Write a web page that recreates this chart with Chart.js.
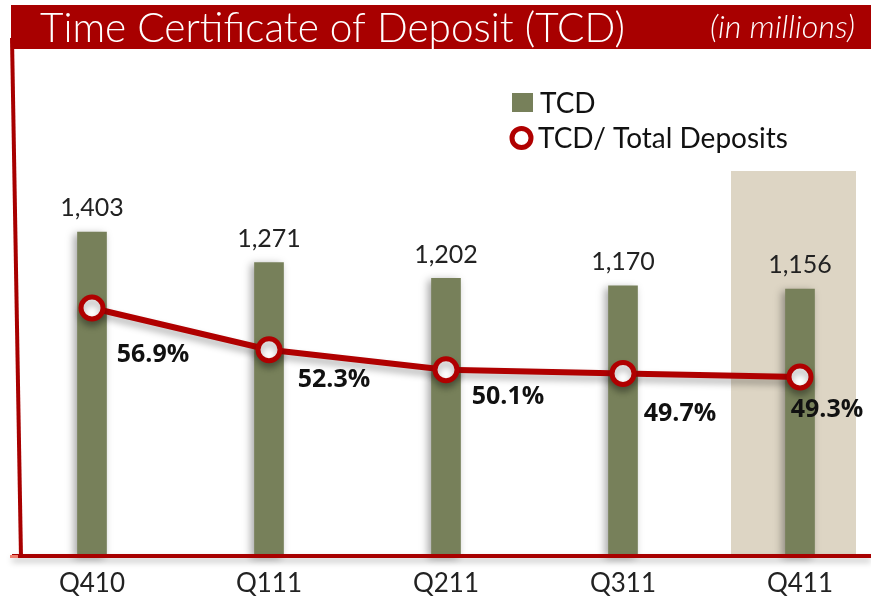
<!DOCTYPE html>
<html>
<head>
<meta charset="utf-8">
<script src="https://cdn.jsdelivr.net/npm/chart.js@4"></script>
<style>
html,body{margin:0;padding:0;background:#fff;}
#wrap{width:871px;height:603px;position:relative;}
</style>
</head>
<body>
<div id="wrap"><canvas id="c" width="871" height="603"></canvas></div>
<script>
const categories = ["Q410", "Q111", "Q211", "Q311", "Q411"];
const tcdValues = [1403, 1271, 1202, 1170, 1156];
const tcdRatio = [56.9, 52.3, 50.1, 49.7, 49.3];
const seriesNames = ["TCD", "TCD/ Total Deposits"];
const titleText = "Time Certificate of Deposit (TCD)";
const unitText = "(in millions)";

const RED = "#a80000";
const OLIVE = "#77805a";
const HIGHLIGHT = "#ddd5c4";

function fitFont(ctx, text, weight, family, targetW, style) {
  let size = 30;
  ctx.font = (style||"") + " " + weight + " " + size + "px " + family;
  const w = ctx.measureText(text).width;
  size = size * targetW / w;
  return (style||"") + " " + weight + " " + size.toFixed(2) + "px " + family;
}

const decor = {
  id: "decor",
  beforeDatasetsDraw(chart) {
    const ctx = chart.ctx, x = chart.scales.x, area = chart.chartArea;
    const cx = x.getPixelForValue(categories.length - 1);
    ctx.save();
    ctx.fillStyle = HIGHLIGHT;
    ctx.fillRect(cx - 69, 171, 125, area.bottom - 171);
    ctx.restore();
  },
  beforeDatasetDraw(chart, args) {
    const ctx = chart.ctx;
    ctx.save();
    if (args.index === 0) {
      ctx.shadowColor = "rgba(0,0,0,0.35)";
      ctx.shadowBlur = 8;
      ctx.shadowOffsetX = -3;
      ctx.shadowOffsetY = 2;
    } else {
      ctx.shadowColor = "rgba(0,0,0,0.3)";
      ctx.shadowBlur = 7;
      ctx.shadowOffsetX = 0;
      ctx.shadowOffsetY = 5;
    }
  },
  afterDatasetDraw(chart) {
    chart.ctx.restore();
  },
  afterDatasetsDraw(chart) {
    const ctx = chart.ctx, area = chart.chartArea;
    ctx.save();
    ctx.shadowColor = "rgba(0,0,0,0.25)";
    ctx.shadowBlur = 6;
    ctx.shadowOffsetY = 4;
    ctx.strokeStyle = RED;
    ctx.lineWidth = 4;
    ctx.beginPath();
    ctx.moveTo(12, area.bottom);
    ctx.lineTo(871, area.bottom);
    ctx.stroke();
    ctx.shadowColor = "transparent";
    ctx.beginPath();
    ctx.moveTo(12, 38);
    ctx.lineTo(21, area.bottom + 2);
    ctx.stroke();
    ctx.fillStyle = "#f08070";
    ctx.fillRect(10, area.bottom - 1, 8, 3);

    // title bar
    ctx.fillStyle = RED;
    ctx.fillRect(11, 5, 860, 44);
    ctx.fillStyle = "#ffffff";
    ctx.textBaseline = "alphabetic";
    ctx.textAlign = "left";
    ctx.font = fitFont(ctx, titleText, 300, "Lato", 585);
    ctx.fillText(titleText, 40, 42);
    ctx.font = fitFont(ctx, unitText, 300, "Lato", 145, "italic");
    ctx.fillText(unitText, 710, 38);

    // value labels above bars
    const m0 = chart.getDatasetMeta(0);
    ctx.fillStyle = "#222";
    ctx.textAlign = "center";
    ctx.textBaseline = "middle";
    ctx.font = "400 25px Lato";
    m0.data.forEach((el, i) => {
      ctx.fillText(tcdValues[i].toLocaleString("en-US"), el.x, el.y - 24);
    });
    // percent labels
    const offs = [[61, 47], [65, 30], [62, 27], [57, 40], [27, 33]];
    const m1 = chart.getDatasetMeta(1);
    ctx.fillStyle = "#111";
    ctx.font = "700 25px 'Open Sans'";
    m1.data.forEach((el, i) => {
      ctx.fillText(tcdRatio[i].toFixed(1) + "%", el.x + offs[i][0], el.y + offs[i][1]);
    });

    // legend
    const ds = chart.data.datasets;
    ctx.textAlign = "left";
    ctx.fillStyle = ds[0].backgroundColor;
    ctx.fillRect(512, 93, 21, 19);
    ctx.beginPath();
    ctx.arc(521.5, 138, 9.5, 0, Math.PI * 2);
    ctx.fillStyle = "#fff";
    ctx.fill();
    ctx.lineWidth = 5;
    ctx.strokeStyle = ds[1].borderColor;
    ctx.stroke();
    ctx.fillStyle = "#111";
    ctx.font = fitFont(ctx, ds[1].label, 400, "Lato", 250);
    ctx.fillText(ds[0].label, 540, 104);
    ctx.fillText(ds[1].label, 538, 139);
    ctx.restore();
  }
};

new Chart(document.getElementById("c"), {
  data: {
    labels: categories,
    datasets: [
      {
        type: "bar",
        label: seriesNames[0],
        data: tcdValues,
        yAxisID: "y",
        backgroundColor: OLIVE,
        barThickness: 29,
        clip: false,
        order: 1
      },
      {
        type: "line",
        label: seriesNames[1],
        data: tcdRatio,
        yAxisID: "y2",
        borderColor: "#b00000",
        borderWidth: 6,
        pointRadius: 11,
        pointBorderWidth: 5,
        pointBackgroundColor: "#ffffff",
        pointBorderColor: "#b00000",
        tension: 0,
        clip: false,
        order: 0
      }
    ]
  },
  options: {
    responsive: false,
    animation: false,
    layout: { padding: { left: 92, right: 71, top: 60, bottom: 0 } },
    plugins: { legend: { display: false }, tooltip: { enabled: false } },
    scales: {
      x: {
        offset: false,
        grid: { display: false, drawTicks: false },
        border: { display: false },
        afterFit(scale) { scale.height = 47; },
        ticks: { padding: 12, color: "#222", font: { family: "Lato", size: 26 } }
      },
      y: { display: false, min: 0, max: 2148 },
      y2: { display: false, min: 29.6, max: 84.2 }
    }
  },
  plugins: [decor]
});
</script>
</body>
</html>
